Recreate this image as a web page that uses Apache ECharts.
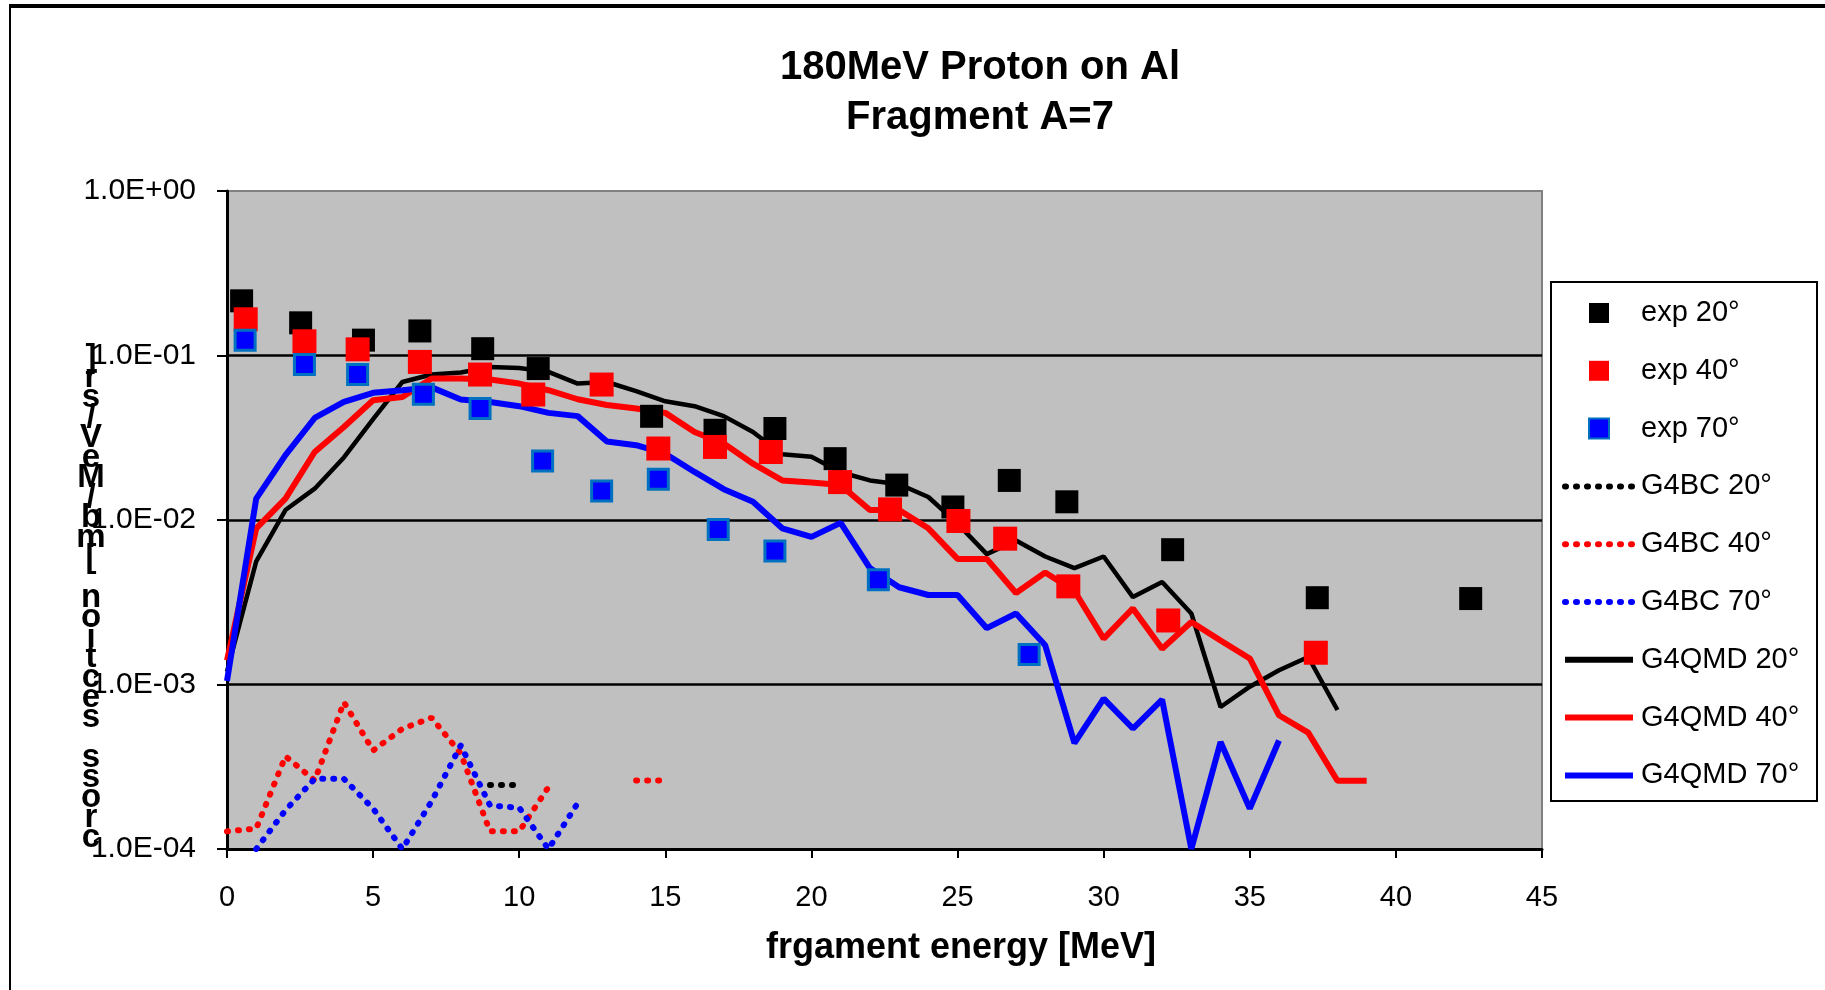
<!DOCTYPE html>
<html><head><meta charset="utf-8">
<script src="https://cdn.jsdelivr.net/npm/echarts@6/dist/echarts.min.js"></script>
<style>html,body{margin:0;padding:0;background:#fff}#c{width:1825px;height:990px}</style>
</head><body><div id="c"></div>
<script>
// ---------- texts ----------
const titleLines = ['180MeV Proton on Al', 'Fragment A=7'];
const xAxisTitle = 'frgament energy [MeV]';
const yAxisTitle = 'cross section [mb/MeV/sr]';
const yTickLabels = ['1.0E-04', '1.0E-03', '1.0E-02', '1.0E-01', '1.0E+00'];
const seriesNames = ['exp 20°', 'exp 40°', 'exp 70°', 'G4BC 20°', 'G4BC 40°', 'G4BC 70°', 'G4QMD 20°', 'G4QMD 40°', 'G4QMD 70°'];

// ---------- experimental points ----------
const exp20E = [0.5, 2.52, 4.67, 6.6, 8.75, 10.65, 14.53, 16.7, 18.75, 20.81, 22.92, 24.84, 26.77, 28.74, 32.36, 37.31, 42.56];
const exp20V = [0.215, 0.158, 0.124, 0.141, 0.110, 0.0833, 0.0427, 0.0351, 0.0360, 0.0236, 0.0163, 0.0120, 0.0174, 0.0129, 0.0066, 0.00337, 0.00333];
const exp40E = [0.64, 2.65, 4.47, 6.6, 8.66, 10.48, 12.82, 14.76, 16.7, 18.61, 20.98, 22.69, 25.03, 26.63, 28.79, 32.21, 37.26];
const exp40V = [0.166, 0.122, 0.109, 0.0914, 0.0766, 0.0579, 0.0666, 0.0272, 0.0278, 0.0259, 0.0170, 0.0116, 0.00986, 0.0077, 0.00395, 0.00245, 0.00156];
const exp70E = [0.62, 2.65, 4.47, 6.72, 8.66, 10.8, 12.82, 14.76, 16.81, 18.75, 22.29, 27.45];
const exp70V = [0.124, 0.0881, 0.0766, 0.0582, 0.0476, 0.0228, 0.0150, 0.0177, 0.00874, 0.00648, 0.00434, 0.00152];

// ---------- G4QMD (solid lines) ----------
const qmdE = [0,1,2,3,4,5,6,7,8,9,10,11,12,13,14,15,16,17,18,19,20,21,22,23,24,25,26,27,28,29,30,31,32,33,34,35,36,37,38,39];
const qmd20 = [0.0012, 0.0056, 0.0115, 0.0155, 0.024, 0.041, 0.069, 0.0766, 0.0788, 0.085, 0.084, 0.0795, 0.0675, 0.069, 0.0607, 0.0527, 0.0492, 0.0428, 0.0343, 0.0251, 0.0242, 0.0195, 0.0174, 0.0165, 0.0138, 0.0095, 0.0062, 0.0075, 0.0060, 0.0051, 0.0060, 0.0034, 0.0042, 0.0027, 0.00073, 0.00097, 0.00122, 0.00147, 0.00070];
const qmd40 = [0.0014, 0.0089, 0.0135, 0.0259, 0.0368, 0.0535, 0.056, 0.0725, 0.0725, 0.0715, 0.0675, 0.0615, 0.0542, 0.0500, 0.0476, 0.0448, 0.0343, 0.0292, 0.0220, 0.0174, 0.0169, 0.0163, 0.0115, 0.0115, 0.0089, 0.0058, 0.0058, 0.0036, 0.0048, 0.0037, 0.0019, 0.0029, 0.00165, 0.0024, 0.00185, 0.00144, 0.00065, 0.00051, 0.00026, 0.00026];
const qmd70 = [0.00105, 0.0135, 0.0248, 0.0417, 0.0522, 0.0593, 0.0615, 0.064, 0.054, 0.0522, 0.0492, 0.0448, 0.0428, 0.0300, 0.0285, 0.0253, 0.0196, 0.0154, 0.0129, 0.0089, 0.0079, 0.0096, 0.0051, 0.0039, 0.0035, 0.0035, 0.0022, 0.0027, 0.00173, 0.00044, 0.00082, 0.00054, 0.00081, 0.0001, 0.000447, 0.000176, 0.000457];

// ---------- G4BC (dotted lines) ----------
const bcE = [0,1,2,3,4,5,6,7,8,9,10,11,12,13,14,15];
const bc20 = [null, null, null, null, null, null, null, null, null, 0.000245, 0.000245];
const bc40 = [0.000128, 0.000133, 0.000366, 0.000261, 0.00078, 0.000397, 0.000538, 0.000628, 0.00038, 0.000128, 0.000128, 0.000238, null, null, 0.000261, 0.000261];
const bc70 = [null, 0.0001, 0.000172, 0.000267, 0.000267, 0.000176, 0.0001, 0.000195, 0.000426, 0.000184, 0.000178, 0.0001, 0.00019];
const whiteLineValue = 0.00026;

// ---------- build ----------
const FONT = '"Liberation Sans", Arial, sans-serif';
function pair(xs, ys) { return ys.map((v, i) => [xs[i], v == null ? '-' : v]); }
const dotted = { type: [1, 10], cap: 'round', width: 6 };
const squareIcon = 'path://M0 0H10V10H0Z';

const chart = echarts.init(document.getElementById('c'), null, { renderer: 'canvas' });
chart.setOption({
  animation: false,
  backgroundColor: '#ffffff',
  title: {
    text: titleLines.join('\n'),
    left: 975, top: 38, textAlign: 'center',
    textStyle: { fontFamily: FONT, fontSize: 40, fontWeight: 'bold', color: '#000', lineHeight: 50 }
  },
  grid: {
    left: 227, top: 191, right: 283, bottom: 141, show: true,
    backgroundColor: '#c0c0c0', borderColor: '#808080', borderWidth: 2,
    containLabel: false, outerBoundsMode: 'none'
  },
  xAxis: {
    type: 'value', min: 0, max: 45, interval: 5,
    axisLine: { show: true, onZero: false, lineStyle: { color: '#000', width: 3 } },
    axisTick: { show: true, length: 9, lineStyle: { color: '#000', width: 2 } },
    axisLabel: { fontFamily: FONT, fontSize: 29, color: '#000', margin: 34 },
    splitLine: { show: false }
  },
  yAxis: {
    type: 'log', logBase: 10, min: 0.0001, max: 1,
    axisLine: { show: true, lineStyle: { color: '#000', width: 3 } },
    axisTick: { show: true, length: 10, lineStyle: { color: '#000', width: 2 } },
    axisLabel: {
      fontFamily: FONT, fontSize: 30, color: '#000', margin: 31,
      formatter: v => yTickLabels[Math.round(Math.log10(v)) + 4]
    },
    splitLine: { show: true, showMinLine: false, showMaxLine: false, lineStyle: { color: '#000', width: 2.5 } }
  },
  legend: {
    orient: 'vertical', left: 1562, top: 298, padding: 0,
    itemWidth: 68, itemHeight: 20, itemGap: 27.8, selectedMode: false,
    textStyle: { fontFamily: FONT, fontSize: 29, color: '#000', lineHeight: 30, padding: [0, 0, 0, 3] },
    data: [
      { name: seriesNames[0], icon: squareIcon },
      { name: seriesNames[1], icon: squareIcon },
      { name: seriesNames[2], icon: squareIcon },
      { name: seriesNames[3], itemStyle: { opacity: 0 }, lineStyle: { width: 6 } },
      { name: seriesNames[4], itemStyle: { opacity: 0 }, lineStyle: { width: 6 } },
      { name: seriesNames[5], itemStyle: { opacity: 0 }, lineStyle: { width: 6 } },
      { name: seriesNames[6], itemStyle: { opacity: 0 }, lineStyle: { width: 6 } },
      { name: seriesNames[7], itemStyle: { opacity: 0 }, lineStyle: { width: 6 } },
      { name: seriesNames[8], itemStyle: { opacity: 0 }, lineStyle: { width: 6 } }
    ]
  },
  graphic: [
    { type: 'line', shape: { x1: 9, y1: 6, x2: 1825, y2: 6 }, style: { stroke: '#000', lineWidth: 4 } },
    { type: 'line', shape: { x1: 10, y1: 6, x2: 10, y2: 990 }, style: { stroke: '#000', lineWidth: 2 } },
    { type: 'rect', shape: { x: 1551, y: 282, width: 266, height: 519 }, style: { fill: '#fff', stroke: '#000', lineWidth: 2 }, z: -10 },
    { type: 'text', x: 91, y: 348, style: { text: yAxisTitle.split('').reverse().join('\n'), font: 'bold 33px ' + FONT, lineHeight: 20, fill: '#000', align: 'center', verticalAlign: 'top' } },
    { type: 'text', x: 961, y: 930, style: { text: xAxisTitle, font: 'bold 36px ' + FONT, fill: '#000', align: 'center', verticalAlign: 'top' } }
  ],
  series: [
    { name: seriesNames[6], type: 'line', data: pair(qmdE, qmd20), symbol: 'none', lineStyle: { color: '#000', width: 4.5 }, itemStyle: { color: '#000' }, z: 2 },
    { name: seriesNames[7], type: 'line', data: pair(qmdE, qmd40), symbol: 'none', lineStyle: { color: '#ff0000', width: 6 }, itemStyle: { color: '#ff0000' }, z: 2 },
    { name: seriesNames[8], type: 'line', data: pair(qmdE, qmd70), symbol: 'none', lineStyle: { color: '#0000ff', width: 6 }, itemStyle: { color: '#0000ff' }, z: 2 },
    { name: seriesNames[3], type: 'line', data: pair(bcE, bc20), symbol: 'none', lineStyle: Object.assign({ color: '#000' }, dotted), itemStyle: { color: '#000' }, z: 3,
      markLine: { silent: true, symbol: ['none', 'none'], label: { show: false }, lineStyle: { color: '#fff', width: 1.5, type: 'solid' }, data: [{ yAxis: whiteLineValue }] } },
    { name: seriesNames[4], type: 'line', data: pair(bcE, bc40), symbol: 'none', lineStyle: Object.assign({ color: '#ff0000' }, dotted), itemStyle: { color: '#ff0000' }, z: 3 },
    { name: seriesNames[5], type: 'line', data: pair(bcE, bc70), symbol: 'none', lineStyle: Object.assign({ color: '#0000ff' }, dotted), itemStyle: { color: '#0000ff' }, z: 3 },
    { name: seriesNames[0], type: 'scatter', data: pair(exp20E, exp20V), symbol: 'rect', symbolSize: 23, itemStyle: { color: '#000', opacity: 1 }, z: 5 },
    { name: seriesNames[1], type: 'scatter', data: pair(exp40E, exp40V), symbol: 'rect', symbolSize: 24, itemStyle: { color: '#ff0000', opacity: 1 }, z: 6 },
    { name: seriesNames[2], type: 'scatter', data: pair(exp70E, exp70V), symbol: 'rect', symbolSize: 20, itemStyle: { color: '#0000ff', borderColor: '#0070c0', borderWidth: 3, opacity: 1 }, z: 7 }
  ]
});
</script></body></html>
